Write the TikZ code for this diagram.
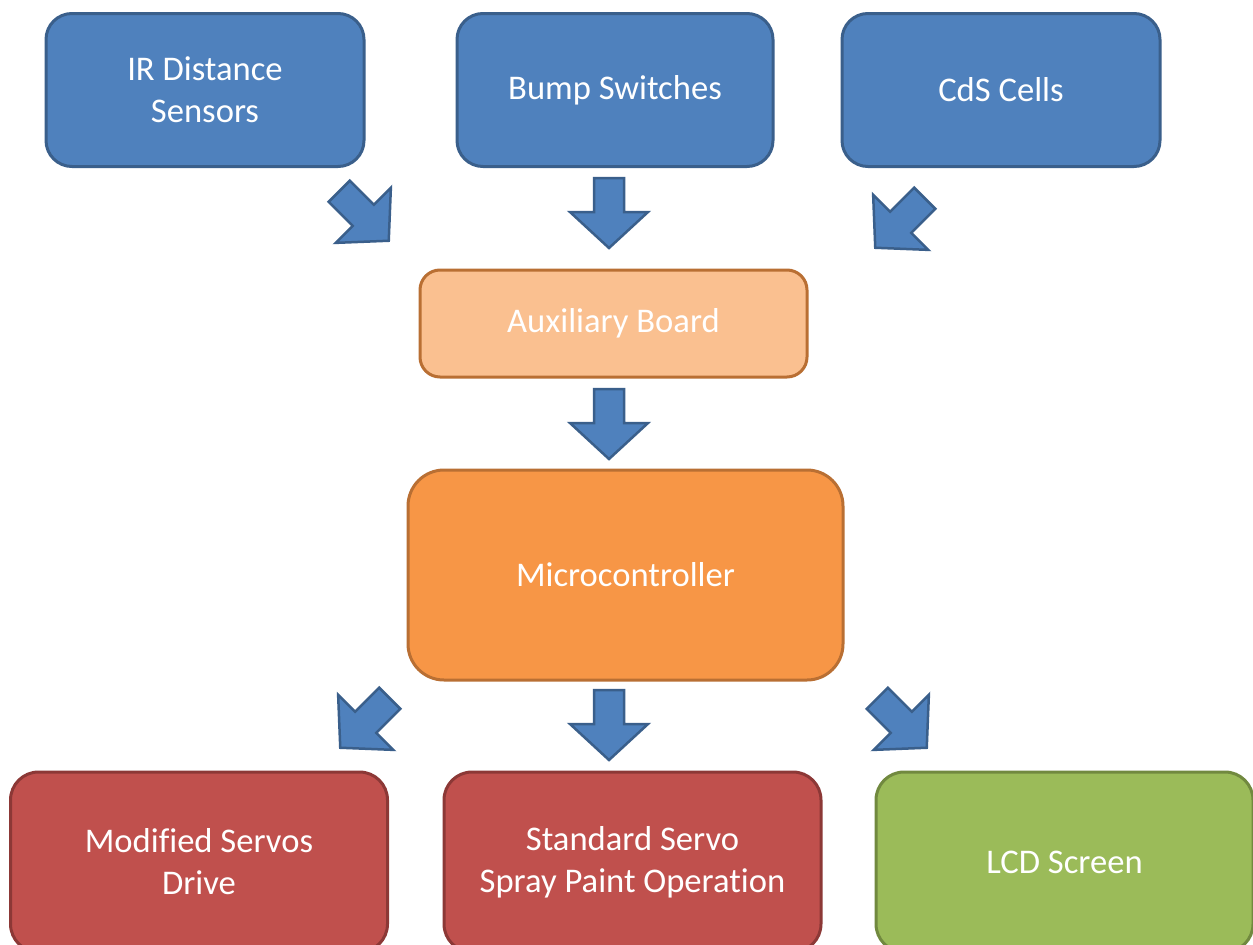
\documentclass[tikz,border=0pt]{standalone}
\usepackage{fontspec}
\setmainfont[Ligatures=NoCommon]{Carlito}
\definecolor{blueF}{HTML}{4F81BD}
\definecolor{blueD}{HTML}{3A5F8B}
\definecolor{auxF}{HTML}{FAC090}
\definecolor{orD}{HTML}{B96F33}
\definecolor{orF}{HTML}{F79646}
\definecolor{redF}{HTML}{C0504D}
\definecolor{redD}{HTML}{8C3836}
\definecolor{grF}{HTML}{9BBB59}
\definecolor{grD}{HTML}{71893F}
\tikzset{
  box/.style={draw, line width=3pt, text=white, align=center, inner sep=0pt,
    font=\fontsize{34.6}{42}\selectfont},
  topbox/.style={box, fill=blueF, draw=blueD, rounded corners=26pt, minimum height=153pt},
  botbox/.style={box, rounded corners=28pt, minimum width=377pt, minimum height=180pt},
  barrow/.pic={\draw[fill=blueF, draw=blueD, line width=2.5pt, line join=miter]
    (-35,-15) -- (-1,-15) -- (-1,-39) -- (35,0) -- (-1,39) -- (-1,15) -- (-35,15) -- cycle;}
}
\begin{document}
\begin{tikzpicture}[x=1pt,y=-1pt]
\useasboundingbox (0,0) rectangle (1253,945);
\clip (0,0) rectangle (1253,945);
\fill[white] (0,0) rectangle (1253,945);
% top row
\node[topbox, minimum width=318pt] (ir) at (205,90) {IR Distance\\Sensors};
\node[topbox, minimum width=316pt] (bump) at (615,90) {Bump Switches};
\node[topbox, minimum width=318pt] (cds) at (1001,90) {CdS Cells};
% middle
\node[box, fill=auxF, draw=orD, rounded corners=20pt, minimum width=387pt, minimum height=107pt] (aux) at (613.5,323.5) {Auxiliary Board};
\node[box, fill=orF, draw=orD, rounded corners=36pt, minimum width=435pt, minimum height=210pt] (mcu) at (625.5,575) {Microcontroller};
% bottom row
\node[botbox, fill=redF, draw=redD] (mod) at (199,862) {Modified Servos\\Drive};
\node[botbox, fill=redF, draw=redD] (std) at (632.5,862) {Standard Servo\\Spray Paint Operation};
\node[botbox, fill=grF, draw=grD] (lcd) at (1064.5,862) {LCD Screen};
% block arrows
\coordinate (a1) at (364,216);
\coordinate (a2) at (609,213);
\coordinate (a3) at (900,223);
\coordinate (a4) at (609,424);
\coordinate (a5) at (365,723);
\coordinate (a6) at (609,725);
\coordinate (a7) at (902,723);
\pic[rotate=-45] at (a1) {barrow};
\pic[rotate=-90] at (a2) {barrow};
\pic[rotate=-135] at (a3) {barrow};
\pic[rotate=-90] at (a4) {barrow};
\pic[rotate=-135] at (a5) {barrow};
\pic[rotate=-90] at (a6) {barrow};
\pic[rotate=-45] at (a7) {barrow};
\end{tikzpicture}
\end{document}
